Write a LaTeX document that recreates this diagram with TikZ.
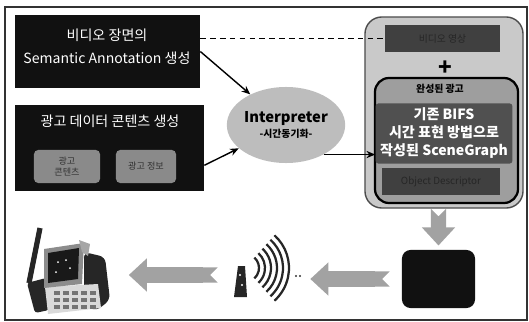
\documentclass[tikz,border=0pt]{standalone}
\usepackage{fontspec}
\setmainfont{Noto Sans CJK KR}
\usepackage{tikz}
\usetikzlibrary{shapes.geometric, arrows.meta, positioning, calc}

\definecolor{boxblack}{HTML}{111111}
\definecolor{tagfill}{HTML}{8A8A8A}
\definecolor{panelgray}{HTML}{C9C9C9}
\definecolor{innergray}{HTML}{9E9E9E}
\definecolor{scenegray}{HTML}{505050}
\definecolor{slotgray}{HTML}{404040}
\definecolor{interpgray}{HTML}{BDBDBD}
\definecolor{arrowgray}{HTML}{A2A2A2}

\begin{document}
\begin{tikzpicture}[x=0.025cm, y=-0.025cm,
    darkbox/.style={rectangle, fill=boxblack},
    whitetext/.style={text=white, align=center, font=\fontsize{10}{16}\selectfont},
    tagbox/.style={rectangle, rounded corners=3pt, fill=tagfill, text=black!80, align=center, font=\fontsize{6.5}{7.5}\selectfont, minimum height=0.825cm},
    slot/.style={rectangle, fill=slotgray, text=black!85, font=\fontsize{7}{8}\selectfont, minimum height=0.675cm},
    arrow/.style={-{Stealth[length=2.2mm, width=1.8mm]}, line width=1pt},
    bigarrow/.style={draw=arrowgray, line width=0.38cm, {Triangle Cap[reversed]}-{Triangle[length=0.45cm, width=0.8cm]}},
]
\useasboundingbox (0,0) rectangle (529,322);
\draw[line width=0.8pt, black!80] (5,7) rectangle (527,320);

% left column
\node[darkbox, minimum width=4.625cm, minimum height=1.825cm] (semantic) at (107.5,51.5) {};
\node[whitetext] (semantictxt) at (107,46.5) {비디오 장면의\\Semantic Annotation 생성};

\node[darkbox, minimum width=4.725cm, minimum height=2.15cm] (addata) at (109.5,148) {};
\node[whitetext] (addatatxt) at (110,121) {광고 데이터 콘텐츠 생성};
\node[tagbox, minimum width=1.65cm] (adcontent) at (67,166.5) {광고\\콘텐츠};
\node[tagbox, minimum width=1.5cm] (adinfo) at (146,166.5) {광고 정보};

% interpreter
\node[ellipse, fill=interpgray, minimum width=2.15cm, minimum height=1.9cm, align=center, inner sep=0pt] (interp) at (286,125)
    {{\fontsize{10.5}{12}\selectfont\bfseries Interpreter}\\[-1pt]{\fontsize{7}{8}\selectfont\bfseries -시간동기화-}};

% finished advertisement
\node[rectangle, rounded corners=12pt, draw=black!70, line width=1pt, fill=panelgray, minimum width=3.95cm, minimum height=4.775cm] (ad) at (444,112.5) {};
\node[slot, minimum width=2.875cm] (video) at (442.5,38.5) {비디오 영상};
\node[font=\fontsize{16}{16}\selectfont\bfseries] (plus) at (445,68) {+};
\node[rectangle, rounded corners=10pt, draw=black, line width=1.6pt, fill=innergray, minimum width=3.575cm, minimum height=3.125cm] (final) at (446.5,140.5) {};
\node[font=\fontsize{7}{8}\selectfont\bfseries] (finaltitle) at (440,89) {완성된 광고};
\node[rectangle, rounded corners=2pt, fill=scenegray, text=white, align=center, font=\fontsize{10}{12.8}\selectfont\bfseries, minimum width=3.05cm, minimum height=1.425cm] (scene) at (444,133.5)
    {기존 BIFS\\시간 표현 방법으로\\작성된 SceneGraph};
\node[slot, minimum width=2.95cm] (od) at (441,181.5) {Object Descriptor};

% transmission chain
\node[darkbox, rounded corners=6pt, minimum width=1.825cm, minimum height=1.45cm] (encoder) at (438.5,279) {};
\node[minimum width=1.7cm, minimum height=1.625cm, inner sep=0pt] (tower) at (266,267.5) {};
\node[minimum width=2.125cm, minimum height=2.25cm, inner sep=0pt] (phone) at (68,270) {};

% tower with radio waves
\fill[black!85] (234,297) -- (238,266) -- (245,266) -- (247,297) -- cycle;
\fill[white] (240,275) circle (1.2) (242,285) circle (1.2);
\foreach \r in {14,20,...,44}
    \draw[line width=1.6pt, black!85] (245,268) ++(-48:\r) arc[start angle=-48, end angle=48, radius=\r];
\fill[black!80] (296,276) circle (1.2) (300,276) circle (1.2);

% handset
\fill[black!85, rounded corners=4pt] (84,252) -- (105,257) -- (110,300) -- (96,311) -- (84,305) -- cycle;
\fill[black!85, rounded corners=2pt] (27,283) -- (46,278) -- (49,310) -- (35,313) -- cycle;
\fill[black!15] (45,287) -- (98,284) -- (101,308) -- (48,314) -- cycle;
\foreach \i in {0,...,4}
    \foreach \j in {0,1,2}
        \fill[black!55] (54+\i*9,291+\j*7) rectangle ++(6,4);
\draw[black!85, line width=0.13cm] (40,228) -- (29,283);
\fill[black!45] (44,249) -- (84,243) -- (82,284) -- (44,288) -- cycle;
\fill[black!90] (48,253) -- (79,248) -- (78,279) -- (48,283) -- cycle;
\fill[black!35] (79,240) -- (90,244) -- (88,256) -- (82,252) -- cycle;
\foreach \p in {(58,262),(66,260),(70,268),(56,272)}
    \fill[white] \p circle (1);

% Arrows
\draw[arrow] (semantic.east) -- (interp);
\draw[arrow] ($(addata.south east)!0.3!(addata.north east)$) -- (interp);
\draw[line width=0.9pt, dash pattern=on 4pt off 3pt] (semantic.east |- video.west) -- (video.west);
\draw[arrow] (interp.-38) -- (interp.-38 -| scene.west);
\draw[bigarrow, shorten >=3pt] (encoder.north |- ad.south) -- (encoder.north);
\draw[bigarrow, shorten <=0.3cm, shorten >=0.25cm] (encoder.west) -- (tower.east |- encoder.west);
\draw[bigarrow, shorten <=0.35cm, shorten >=0.45cm] (tower.west |- 0,275) -- (phone.east |- 0,275);

\end{tikzpicture}
\end{document}
